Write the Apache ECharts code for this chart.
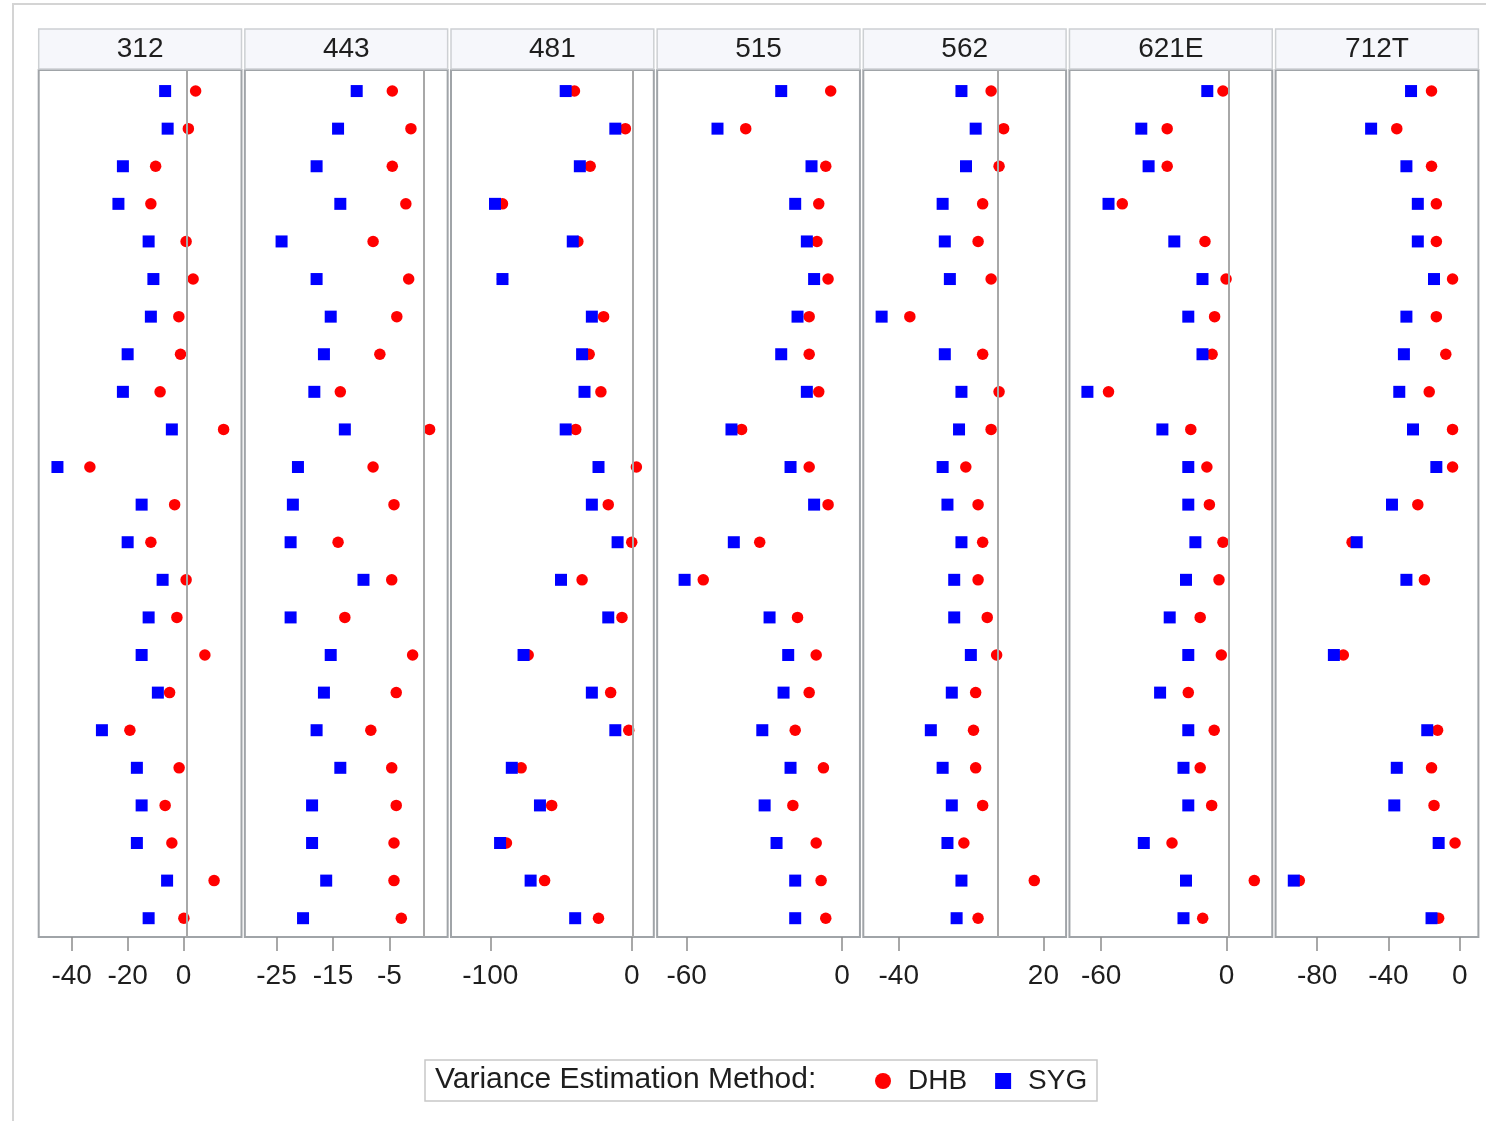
<!DOCTYPE html>
<html><head><meta charset="utf-8">
<script src="https://cdn.jsdelivr.net/npm/echarts@6/dist/echarts.min.js"></script>
<style>html,body{margin:0;padding:0;background:#fff}#c{width:1486px;height:1121px}</style>
</head><body><div id="c"></div>
<script>
// ---- data ----
const panels = ['312','443','481','515','562','621E','712T'];
const rows = [1,2,3,4,5,6,7,8,9,10,11,12,13,14,15,16,17,18,19,20,21,22,23];

const syg312 = [-6.6,-5.7,-21.7,-23.3,-12.5,-10.8,-11.7,-20.0,-21.7,-4.2,-45.1,-15.0,-20.0,-7.5,-12.5,-15.0,-9.2,-29.2,-16.7,-15.0,-16.7,-5.9,-12.5];
const dhb312 = [4.3,1.7,-10.0,-11.7,0.9,3.4,-1.7,-1.1,-8.4,14.3,-33.5,-3.2,-11.7,0.9,-2.4,7.6,-5.0,-19.2,-1.6,-6.6,-4.2,10.9,0.1];

const syg443 = [-10.8,-14.1,-17.9,-13.7,-24.1,-17.9,-15.4,-16.6,-18.3,-12.9,-21.2,-22.1,-22.5,-9.6,-22.5,-15.4,-16.6,-17.9,-13.7,-18.7,-18.7,-16.2,-20.3];
const dhb443 = [-4.5,-1.2,-4.5,-2.1,-7.9,-1.6,-3.7,-6.7,-13.7,2.1,-7.9,-4.2,-14.1,-4.6,-12.9,-0.9,-3.8,-8.3,-4.6,-3.8,-4.2,-4.2,-2.9];

const syg481 = [-46.7,-11.6,-36.7,-96.7,-41.7,-91.4,-28.2,-35.1,-33.4,-46.7,-23.5,-28.2,-10.0,-50.0,-16.6,-76.5,-28.2,-11.6,-84.8,-64.9,-93.1,-71.5,-40.0];
const dhb481 = [-40.5,-4.5,-29.4,-91.4,-38.1,-91.4,-19.9,-30.1,-21.8,-39.6,3.3,-16.6,0.0,-35.1,-6.9,-73.2,-14.9,-2.1,-78.2,-56.6,-88.6,-61.6,-23.5];

const syg515 = [-23.5,-48.1,-11.8,-18.1,-13.6,-10.8,-17.2,-23.5,-13.6,-42.7,-19.9,-10.8,-41.8,-60.8,-28.0,-20.8,-22.6,-30.8,-19.9,-29.9,-25.3,-18.1,-18.1];
const dhb515 = [-4.4,-37.2,-6.3,-9.0,-9.7,-5.4,-12.7,-12.7,-9.0,-38.8,-12.7,-5.4,-31.8,-53.6,-17.2,-10.0,-12.7,-18.1,-7.2,-19.0,-10.0,-8.1,-6.3];

const syg562 = [-14.0,-8.1,-12.1,-21.8,-20.9,-18.8,-47.1,-20.9,-14.0,-15.0,-21.8,-19.8,-14.0,-17.0,-17.0,-10.1,-18.0,-26.7,-21.8,-18.0,-19.8,-14.0,-16.0];
const dhb562 = [-1.7,3.5,1.6,-5.2,-7.1,-1.7,-35.4,-5.2,1.6,-1.7,-12.2,-7.1,-5.2,-7.1,-3.3,0.6,-8.1,-9.0,-8.1,-5.2,-13.0,16.2,-7.1];

const syg621E = [-9.2,-40.8,-37.3,-56.5,-25.0,-11.5,-18.3,-11.5,-66.6,-30.7,-18.3,-18.3,-14.9,-19.4,-27.2,-18.3,-31.8,-18.3,-20.6,-18.3,-39.6,-19.4,-20.6];
const dhb621E = [-1.7,-28.4,-28.4,-49.9,-10.3,-0.2,-5.7,-6.9,-56.5,-17.1,-9.4,-8.2,-1.7,-3.6,-12.6,-2.5,-18.3,-5.9,-12.6,-7.1,-26.1,13.3,-11.4];

const syg712T = [-27.3,-49.7,-29.9,-23.5,-23.5,-14.4,-29.9,-31.3,-33.9,-26.2,-13.1,-38.0,-57.8,-29.9,null,-70.6,null,-18.2,-35.3,-36.7,-11.8,-93.1,-15.8];
const dhb712T = [-15.8,-35.3,-15.8,-13.1,-13.1,-4.0,-13.1,-7.8,-17.1,-4.0,-4.0,-23.5,-60.4,-19.8,null,-65.3,null,-12.4,-15.8,-14.4,-2.6,-90.0,-11.8];

const sygAll = [syg312, syg443, syg481, syg515, syg562, syg621E, syg712T];
const dhbAll = [dhb312, dhb443, dhb481, dhb515, dhb562, dhb621E, dhb712T];

const xMin = [-51.8,-30.6,-127.8,-71.4,-54.7,-75.2,-103.3];
const xMax = [20.7,5.3,15.6,6.9,29.4,21.9,10.5];
const tickValues = [[-40,-20,0],[-25,-15,-5],[-100,0],[-60,0],[-40,20],[-60,0],[-80,-40,0]];
const refValue = [1,1,1,null,1,1,null];

// ---- layout ----
const FONT = "'Liberation Sans', Arial, sans-serif";
const L0 = 38.7, PITCH = 206.15, W = 202.8, TOP = 70, H = 867;

const chart = echarts.init(document.getElementById('c'), null, {renderer:'canvas'});

const grids = [], xAxes = [], yAxes = [], series = [], graphics = [];
graphics.push({type:'rect', shape:{x:13, y:4, width:1500, height:1140}, style:{fill:'none', stroke:'#d4d4d4', lineWidth:2}, z:-1});

panels.forEach((p, i) => {
  const left = L0 + i * PITCH;
  grids.push({left: left, top: TOP, width: W, height: H, show: true, borderColor: '#a0a4a8', borderWidth: 2, backgroundColor: '#fff', containLabel: false});
  xAxes.push({
    gridIndex: i, type: 'value', min: xMin[i], max: xMax[i],
    splitLine: {show: false}, axisLine: {show: false},
    axisTick: {show: true, length: 14, lineStyle: {color: '#8c8c8c', width: 1.5}, customValues: tickValues[i]},
    axisLabel: {show: true, customValues: tickValues[i], fontSize: 28, color: '#1e1e1e', margin: 25, fontFamily: FONT}
  });
  yAxes.push({gridIndex: i, type: 'value', min: 0.44, max: 23.5, inverse: true, show: false});
  const dhbData = [], sygData = [];
  rows.forEach((r, k) => {
    if (dhbAll[i][k] !== null) dhbData.push([dhbAll[i][k], r]);
    if (sygAll[i][k] !== null) sygData.push([sygAll[i][k], r]);
  });
  const dhbSeries = {
    type: 'scatter', name: 'DHB', xAxisIndex: i, yAxisIndex: i,
    symbol: 'circle', symbolSize: 11.5, itemStyle: {color: '#ff0000', opacity: 1},
    data: dhbData, z: 2, animation: false
  };
  if (refValue[i] !== null) {
    dhbSeries.markLine = {silent: true, symbol: ['none','none'], label: {show: false},
      lineStyle: {color: '#a8a8a8', width: 2, type: 'solid'}, data: [{xAxis: refValue[i]}], animation: false};
  }
  series.push(dhbSeries);
  series.push({
    type: 'scatter', name: 'SYG', xAxisIndex: i, yAxisIndex: i,
    symbol: 'rect', symbolSize: 12, itemStyle: {color: '#0000ff', opacity: 1},
    data: sygData, z: 3, animation: false
  });
  graphics.push({type:'rect', shape:{x:left, y:29, width:W, height:40}, style:{fill:'#f6f7fb', stroke:'#cdd0d3', lineWidth:1.5}});
  graphics.push({type:'text', x:left + W/2, y:49, style:{text:p, font:"28px " + FONT, fill:'#1e1e1e', textAlign:'center', textVerticalAlign:'middle'}});
});

// legend box + label
graphics.push({type:'rect', shape:{x:425, y:1060, width:672, height:41}, style:{fill:'#fff', stroke:'#c8c8c8', lineWidth:1.5}, z:-1});
graphics.push({type:'text', x:435, y:1080, style:{text:'Variance Estimation Method:', font:"30px " + FONT, fill:'#1e1e1e', textAlign:'left', textVerticalAlign:'middle'}});

chart.setOption({
  animation: false,
  backgroundColor: '#fff',
  grid: grids, xAxis: xAxes, yAxis: yAxes, series: series,
  legend: {
    data: [{name:'DHB', icon:'circle'}, {name:'SYG', icon:'rect'}],
    left: 875, top: 1067, padding: 0, itemWidth: 16, itemHeight: 16, itemGap: 28,
    textStyle: {fontSize: 28, color: '#1e1e1e', fontFamily: FONT, padding: [0,0,0,12]},
    selectedMode: false
  },
  graphic: graphics
});
</script>
</body></html>
